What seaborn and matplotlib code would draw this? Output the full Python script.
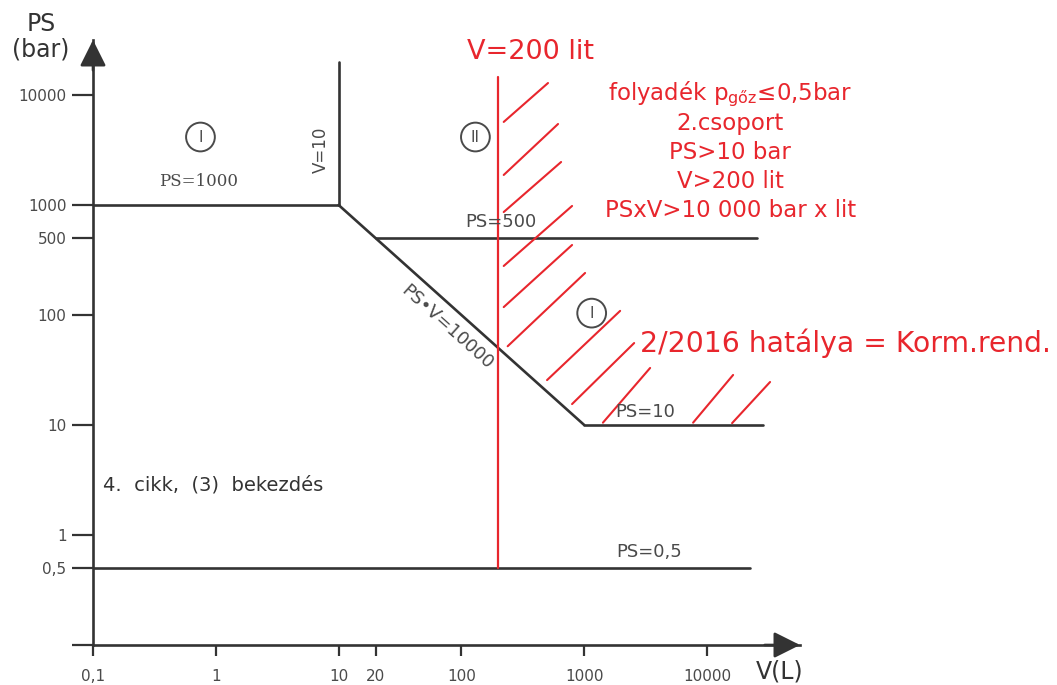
import matplotlib
matplotlib.use("Agg")
import pandas as pd
import matplotlib.pyplot as plt
import seaborn as sns

sns.set_theme(style="white")
plt.rcParams["font.family"] = ["DejaVu Sans"]
plt.rcParams["mathtext.fontset"] = "dejavusans"

DARK = "#333333"
GREY = "#4a4a4a"
RED = "#e8262d"

# boundary lines of the category diagram (V in litre, PS in bar)
line_names = ["PS=1000", "V=10", "PS*V=10000", "PS=500", "PS=10", "PS=0,5"]
line_v = [[0.1, 10], [10, 10], [10, 1000], [20, 25500], [1000, 28600], [0.1, 22400]]
line_ps = [[1000, 1000], [1000, 20000], [1000, 10], [500, 500], [10, 10], [0.5, 0.5]]

# red V=200 limit
limit_v = [200, 200]
limit_ps = [0.5, 14500]

# red hatch strokes (start / end points)
hatch_v0 = [221, 221, 221, 221, 221, 238, 498, 796, 1420, 7700, 16000]
hatch_ps0 = [5690, 1875, 863, 279, 118, 52, 25.6, 15.5, 10.5, 10.5, 10.4]
hatch_v1 = [507, 612, 648, 796, 796, 1016, 1960, 2550, 3440, 16300, 32600]
hatch_ps1 = [12850, 5450, 2460, 980, 433, 241, 109, 55.6, 33, 28.5, 24.6]

x_ticks = [0.1, 1, 10, 20, 100, 1000, 10000]
x_tick_labels = ["0,1", "1", "10", "20", "100", "1000", "10000"]
y_ticks = [0.1, 0.5, 1, 10, 100, 500, 1000, 10000]
y_tick_labels = ["", "0,5", "1", "10", "100", "500", "1000", "10000"]

red_notes = ["folyadék p$_{\\mathrm{gőz}}$≤0,5bar", "2.csoport", "PS>10 bar",
             "V>200 lit", "PSxV>10 000 bar x lit"]
red_note_ps = [9000, 4800, 2620, 1430, 778]

# long tables for seaborn
bound_df = pd.DataFrame({
    "V": [v for seg in line_v for v in seg],
    "PS": [p for seg in line_ps for p in seg],
    "seg": [n for n in line_names for _ in range(2)],
})
hatch_df = pd.DataFrame({
    "V": [v for pair in zip(hatch_v0, hatch_v1) for v in pair],
    "PS": [p for pair in zip(hatch_ps0, hatch_ps1) for p in pair],
    "seg": [i for i in range(len(hatch_v0)) for _ in range(2)],
})
limit_df = pd.DataFrame({"V": limit_v, "PS": limit_ps, "seg": [0, 0]})

fig = plt.figure(figsize=(10.57, 6.85), dpi=100)
ax = fig.add_axes([93 / 1057, 40 / 685, (800 - 93) / 1057, 605 / 685])
ax.set_xscale("log")
ax.set_yscale("log")

sns.lineplot(data=bound_df, x="V", y="PS", units="seg", estimator=None, sort=False,
             color=DARK, lw=1.9, ax=ax, legend=False)
sns.lineplot(data=limit_df, x="V", y="PS", units="seg", estimator=None, sort=False,
             color=RED, lw=1.6, ax=ax, legend=False)
sns.lineplot(data=hatch_df, x="V", y="PS", units="seg", estimator=None, sort=False,
             color=RED, lw=1.5, ax=ax, legend=False)

ax.set_xlim(0.1, 10 ** 4.757)
ax.set_ylim(0.1, 10 ** 4.5)
ax.set_xticks(x_ticks)
ax.set_xticklabels(x_tick_labels)
ax.set_yticks(y_ticks)
ax.set_yticklabels(y_tick_labels)
ax.minorticks_off()
ax.set_xlabel("")
ax.set_ylabel("")
ax.tick_params(axis="x", direction="out", length=8, width=1.6, color=DARK,
               labelsize=11, labelcolor=GREY, pad=9, bottom=True)
ax.tick_params(axis="y", direction="out", length=15, width=1.6, color=DARK,
               labelsize=11, labelcolor=GREY, pad=4, left=True)
for side in ["top", "right"]:
    ax.spines[side].set_visible(False)
for side in ["left", "bottom"]:
    ax.spines[side].set_color(DARK)
    ax.spines[side].set_linewidth(1.9)
ax.grid(False)

# arrow heads on the axes
arrow = dict(arrowstyle="-|>,head_length=0.8,head_width=0.4", mutation_scale=20,
             color=DARK, lw=1.9, shrinkA=0, shrinkB=0)
ax.annotate("", xy=(0, 1), xytext=(0, 0.95), xycoords="axes fraction", arrowprops=arrow)
ax.annotate("", xy=(1, 0), xytext=(0.95, 0), xycoords="axes fraction", arrowprops=arrow)

fig.text(41 / 1057, 1 - 24 / 685, "PS", fontsize=17, color=DARK, ha="center", va="center")
fig.text(41 / 1057, 1 - 50 / 685, "(bar)", fontsize=17, color=DARK, ha="center", va="center")
fig.text(780 / 1057, 1 - 672 / 685, "V(L)", fontsize=17, color=DARK, ha="center", va="center")

# grey labels
ax.text(0.72, 1650, "PS=1000", fontsize=12, family="DejaVu Serif", color=GREY,
        ha="center", va="center")
ax.text(7.2, 3160, "V=10", fontsize=12, color=GREY, rotation=90, ha="center", va="center")
ax.text(209, 700, "PS=500", fontsize=13, color=GREY, ha="center", va="center")
ax.text(77, 78, "PS•V=10000", fontsize=13, color=GREY, rotation=-41.9,
        rotation_mode="anchor", ha="center", va="center")
ax.text(3160, 13.1, "PS=10", fontsize=13, color=GREY, ha="center", va="center")
ax.text(3360, 0.70, "PS=0,5", fontsize=13, color=GREY, ha="center", va="center")
ax.text(0.12, 2.85, "4.  cikk,  (3)  bekezdés", fontsize=14, color=DARK,
        ha="left", va="center")

circle = dict(boxstyle="circle,pad=0.45", fc="white", ec=GREY, lw=1.4)
for cx, cy, lab in [(0.75, 4150, "I"), (130, 4150, "II"), (1150, 104, "I")]:
    ax.text(cx, cy, lab, fontsize=11, color=GREY, ha="center", va="center", bbox=circle)

# red annotations
ax.text(362, 24600, "V=200 lit", fontsize=19.5, color=RED, ha="center", va="center")
for note, ps in zip(red_notes, red_note_ps):
    ax.text(15400, ps, note, fontsize=16.5, color=RED, ha="center", va="baseline")
ax.text(2850, 55.6, "2/2016 hatálya = Korm.rend.", fontsize=20.3, color=RED,
        ha="left", va="center")

fig.savefig("out.png", dpi=100)
